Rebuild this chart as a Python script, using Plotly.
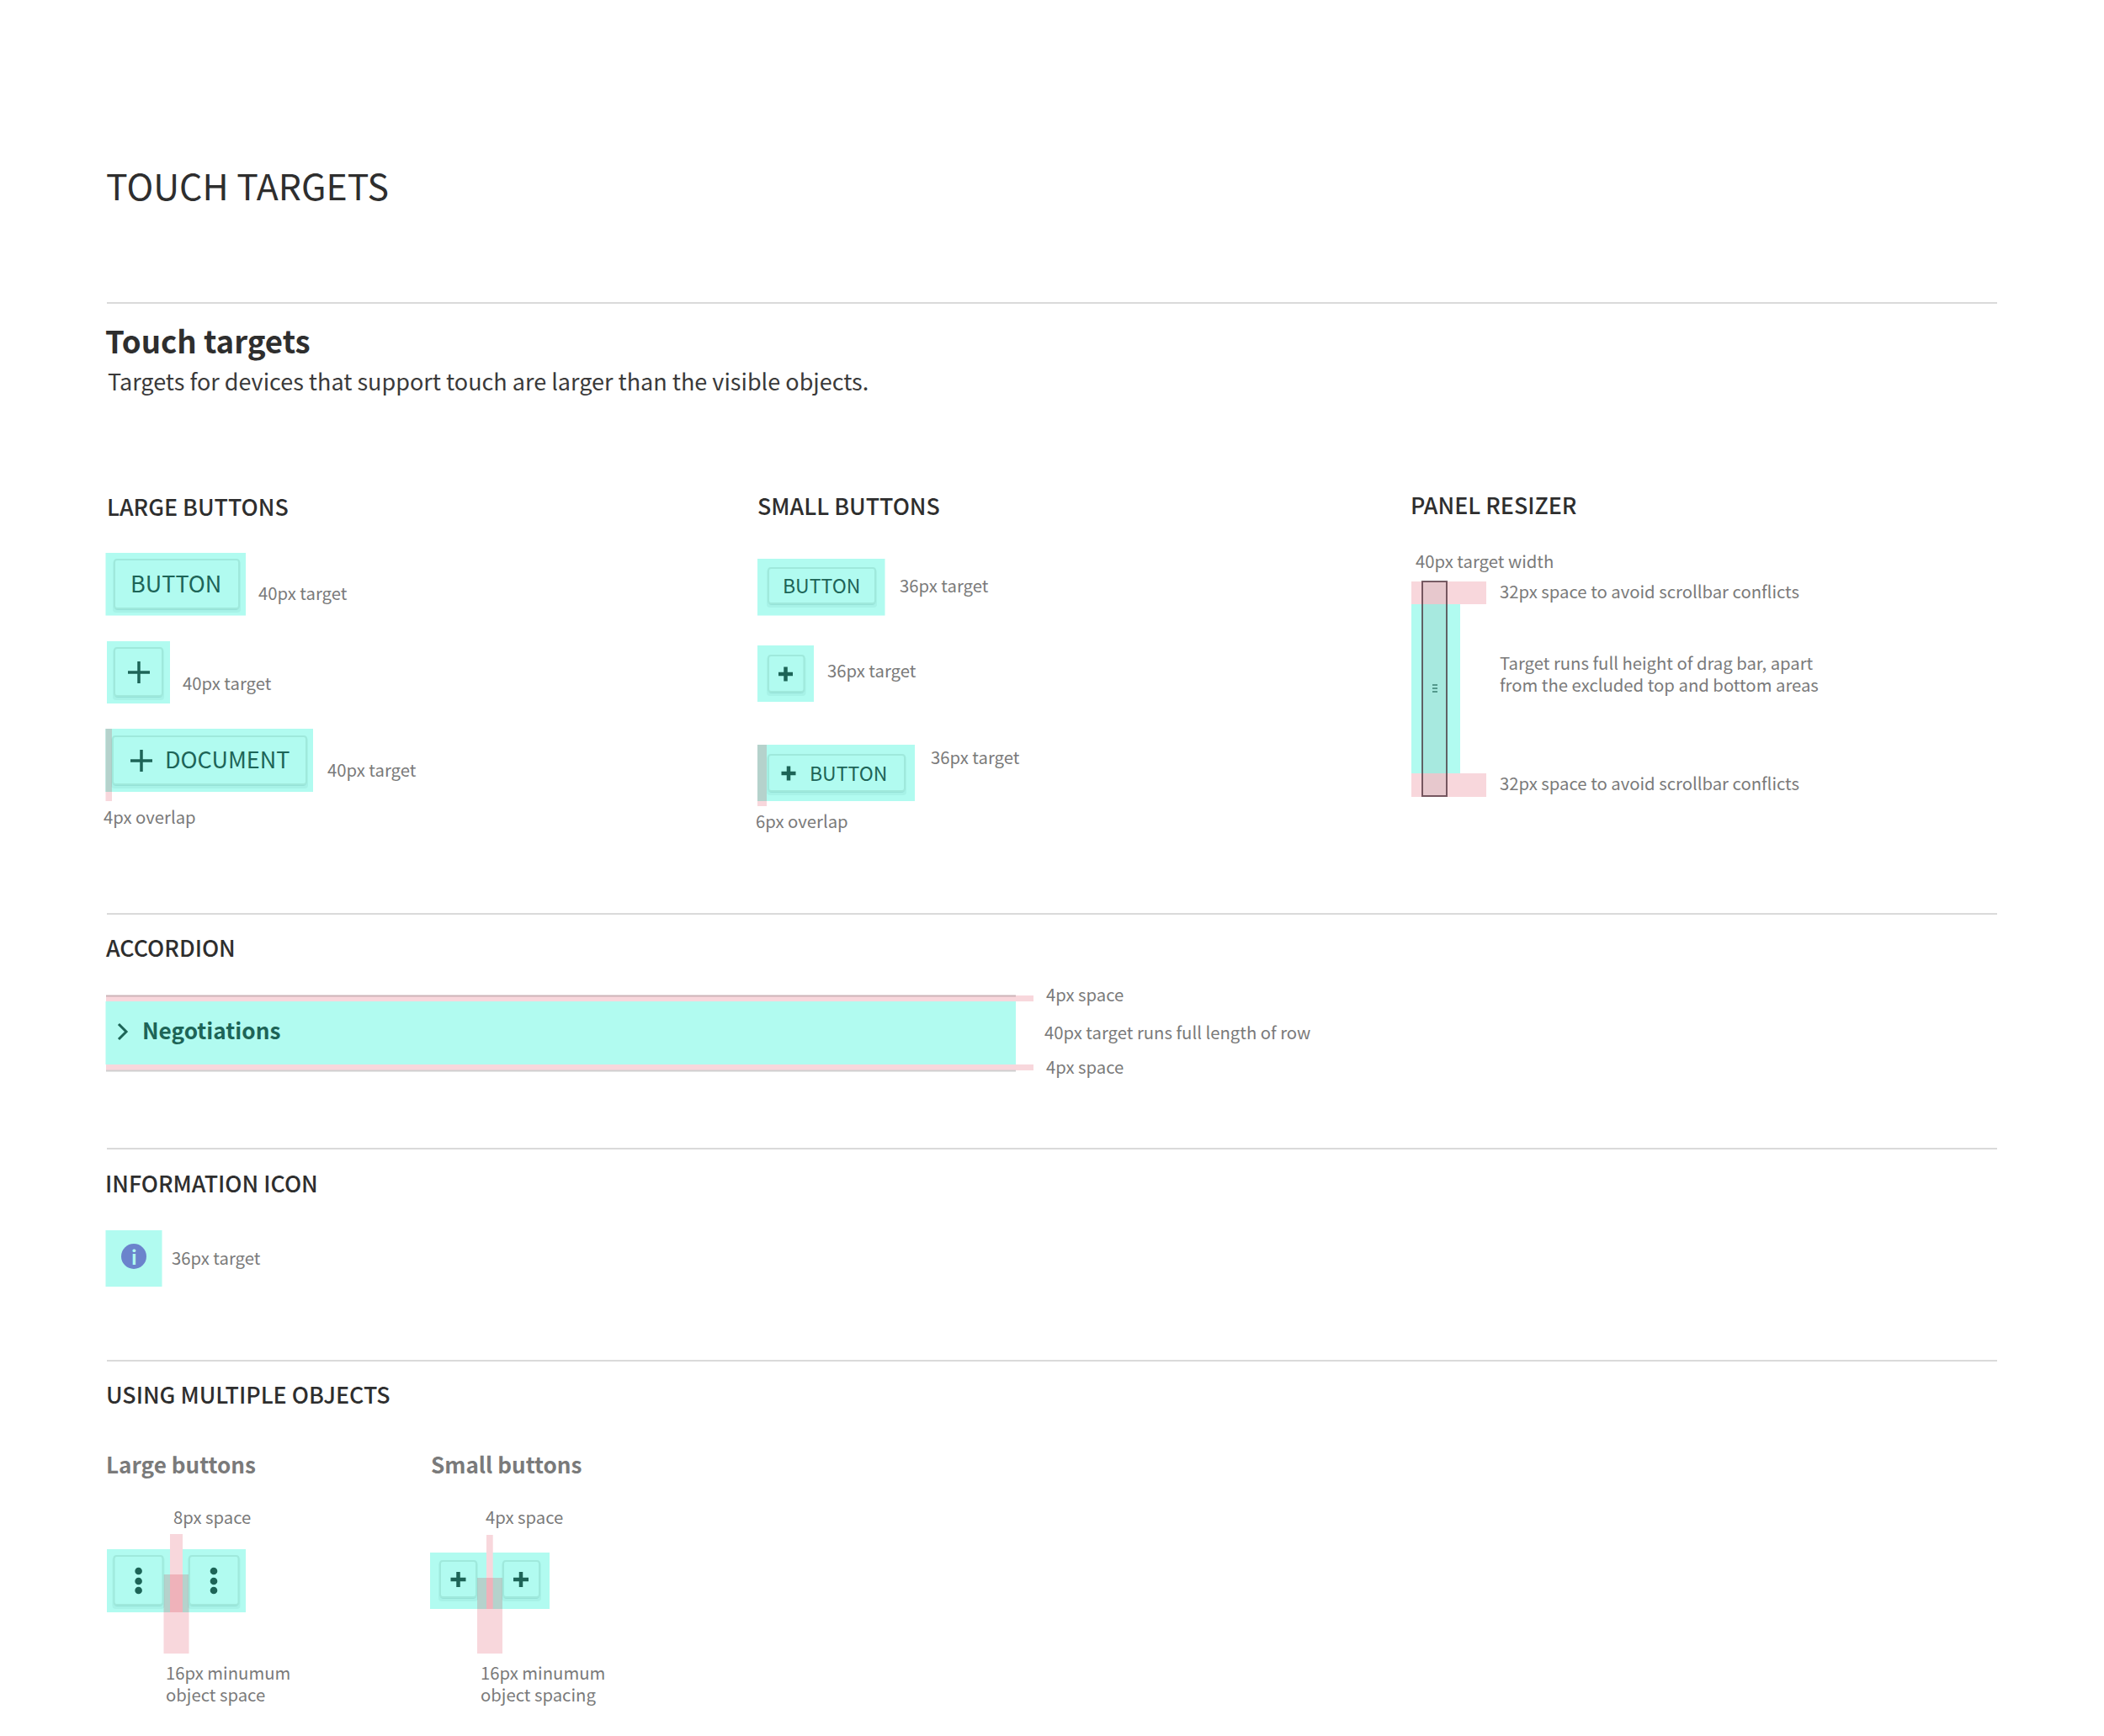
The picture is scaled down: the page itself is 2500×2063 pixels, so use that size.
import plotly.graph_objects as go

W, H = 2500, 2063
FONT = "Noto Sans CJK SC"

TEAL = "#b1fbf0"
PINK = "#f8d7dc"
GREY_OVER = "#b5d2cc"
PINK_OVER = "#efb2ba"
DARK_TEAL = "#1d6457"
LABEL = "#7a7a7a"
HEAD = "#2e2e2e"

# section rules (y), all run the same width
rule_y = [360, 1086, 1365, 1617]
rule_x = [127, 2373]

# boxes are x0, y0, x1, y1 in page pixels
teal_boxes = [
    (125.5, 657, 292, 731.5), (127, 762, 202, 836), (125.5, 866, 372, 941),
    (900, 664, 1051.5, 731.5), (900, 767, 967, 834), (900, 885, 1087, 952),
    (1677, 718, 1735, 919),
    (125.5, 1190, 1207, 1265),
    (125.5, 1462, 192.5, 1529),
    (127, 1841, 292, 1916), (511, 1845, 653, 1912),
]
pink_boxes = [
    (125.5, 941, 133, 952), (900, 952, 911, 958),
    (1677, 691, 1766, 718), (1677, 919, 1766, 947),
    (126, 1183, 1228, 1190), (126, 1265, 1228, 1272),
    (202, 1823, 217, 1916), (578, 1824, 585.7, 1912),
    (194.5, 1916, 224.5, 1965), (567, 1912, 597, 1965),
]
grey_boxes = [
    (125.5, 866, 133, 941), (900, 885, 911, 952),
    (194.5, 1871, 224.5, 1916), (567, 1875, 597, 1912),
]
deep_pink_boxes = [(202, 1871, 217, 1916), (578, 1875, 585.7, 1912)]

button_boxes = [
    (136, 665, 284, 723), (136, 770, 193, 827), (134, 875, 364, 932),
    (913, 675, 1040, 717), (913, 779, 955.5, 822), (913, 897, 1075, 940),
    (135.5, 1849, 193.5, 1907), (225, 1849, 283.5, 1907),
    (523, 1855, 566, 1898), (598, 1855, 641, 1898),
]

# plus icons: centre x, centre y, half size, stroke
plus_icons = [
    (165, 799, 13, 3.5), (168, 904, 13, 3.5),
    (933.5, 801, 8.5, 4.5), (937, 919, 8.5, 4.5),
    (544.5, 1877, 9, 4.5), (619, 1877, 9, 4.5),
]
kebab_x = [164.6, 254]
kebab_y = [1867, 1879, 1890]

resizer_box = (1690, 691, 1719, 946)
resizer_grip_y = [814, 818, 822]
accordion_rule_y = [1183.5, 1272.5]

label_text = [
    "40px target", "40px target", "40px target", "4px overlap",
    "36px target", "36px target", "36px target", "6px overlap",
    "40px target width", "32px space to avoid scrollbar conflicts",
    "Target runs full height of drag bar, apart<br>from the excluded top and bottom areas",
    "32px space to avoid scrollbar conflicts",
    "4px space", "40px target runs full length of row", "4px space",
    "36px target", "8px space", "16px minumum<br>object space",
    "4px space", "16px minumum<br>object spacing",
]
label_x = [307, 217, 389, 123.5, 1069, 983, 1106.5, 898, 1682, 1782, 1782, 1782,
           1243, 1241, 1243, 204, 206, 197, 577, 571]
label_y = [706, 813, 916, 972, 697, 798, 901, 977, 668, 704, 802, 932,
           1183, 1228, 1269, 1496, 1804, 2002, 1804, 2002]

heading_text = ["LARGE BUTTONS", "SMALL BUTTONS", "PANEL RESIZER", "ACCORDION",
                "INFORMATION ICON", "USING MULTIPLE OBJECTS"]
heading_x = [127, 900, 1676.5, 126, 125, 126]
heading_y = [603.5, 603, 601.5, 1128, 1407.5, 1659]

button_text = ["BUTTON", "DOCUMENT", "BUTTON", "BUTTON"]
button_text_x = [209, 269.5, 976, 1008]
button_text_y = [695, 904, 697, 920]
button_text_size = [27, 27, 23, 23]


def rect(box, color):
    return dict(type="rect", xref="x", yref="y", x0=box[0], y0=box[1], x1=box[2], y1=box[3],
                fillcolor=color, line=dict(width=0), layer="above")


def round_box(box, r, fill, line_color=None, line_width=0, dy=0, grow=0):
    x0, y0, x1, y1 = box[0] - grow, box[1] - grow + dy, box[2] + grow, box[3] + grow + dy
    path = (f"M{x0 + r},{y0} L{x1 - r},{y0} Q{x1},{y0} {x1},{y0 + r} L{x1},{y1 - r} Q{x1},{y1} {x1 - r},{y1} "
            f"L{x0 + r},{y1} Q{x0},{y1} {x0},{y1 - r} L{x0},{y0 + r} Q{x0},{y0} {x0 + r},{y0} Z")
    return dict(type="path", xref="x", yref="y", path=path, fillcolor=fill, layer="above",
                line=dict(color=line_color or fill, width=line_width))


def seg(x0, y0, x1, y1, color, width):
    return dict(type="line", xref="x", yref="y", x0=x0, y0=y0, x1=x1, y1=y1, layer="above",
                line=dict(color=color, width=width))


def dot(cx, cy, r, color):
    return dict(type="circle", xref="x", yref="y", x0=cx - r, y0=cy - r, x1=cx + r, y1=cy + r,
                fillcolor=color, line=dict(width=0), layer="above")


def txt(s, x, y, size, color, weight=400, anchor="left"):
    # left aligned text sits a little right and low in its box, pull it back
    dx = -1.5 if anchor == "left" else 0
    return dict(text=s, x=x + dx, y=y - 2.5, xref="x", yref="y", xanchor=anchor, yanchor="middle",
                align=anchor, showarrow=False, borderpad=0,
                font=dict(family=FONT, size=size, color=color, weight=weight))


shapes = []
for y in rule_y:
    shapes.append(seg(rule_x[0], y, rule_x[1], y, "#dadada", 2))

for b in teal_boxes:
    shapes.append(rect(b, TEAL))
for b in pink_boxes:
    shapes.append(rect(b, PINK))
for b in grey_boxes:
    shapes.append(rect(b, GREY_OVER))
for b in deep_pink_boxes:
    shapes.append(rect(b, PINK_OVER))

# button: soft shadow, then face with a faint border
for b in button_boxes:
    shapes.append(round_box(b, 4, "rgba(40,130,120,0.07)", dy=3, grow=2))
    shapes.append(round_box(b, 4, "rgba(40,130,120,0.14)", dy=2))
    shapes.append(round_box(b, 3, TEAL, "#9fe9dc", 2))

for cx, cy, s, w in plus_icons:
    shapes.append(seg(cx - s, cy, cx + s, cy, DARK_TEAL, w))
    shapes.append(seg(cx, cy - s, cx, cy + s, DARK_TEAL, w))

for x in kebab_x:
    for y in kebab_y:
        shapes.append(dot(x, y, 4.3, DARK_TEAL))

# panel resizer
shapes.append(dict(type="rect", xref="x", yref="y", x0=resizer_box[0], y0=resizer_box[1], x1=resizer_box[2],
                   y1=resizer_box[3], fillcolor="rgba(70,60,60,0.09)", layer="above",
                   line=dict(color="rgba(60,30,40,0.68)", width=2)))
for y in resizer_grip_y:
    shapes.append(seg(1702, y, 1708, y, DARK_TEAL, 1.2))

# accordion edge lines and chevron
shapes.append(seg(126, accordion_rule_y[0], 1207, accordion_rule_y[0], "#cdb4b8", 2))
shapes.append(seg(126, accordion_rule_y[1], 1207, accordion_rule_y[1], "#cfcfcf", 2))
shapes.append(dict(type="path", xref="x", yref="y", path="M141,1217 L150,1226 L141,1235", layer="above",
                   line=dict(color=DARK_TEAL, width=3)))

# info icon
shapes.append(dot(159, 1493, 15, "#6b83cc"))

annotations = [
    txt("TOUCH TARGETS", 126, 221, 42.8, HEAD),
    txt("Touch targets", 125.5, 406.5, 36.6, HEAD, 700),
    txt("Targets for devices that support touch are larger than the visible objects.", 128, 455, 27, "#3a3a3a"),
    txt("Large buttons", 126, 1742.5, 26.1, LABEL, 700),
    txt("Small buttons", 512, 1742.5, 26.1, LABEL, 700),
    txt("Negotiations", 169, 1226, 26.2, DARK_TEAL, 700),
    txt("i", 159, 1495.5, 22, TEAL, 700, "center"),
]
for s, x, y in zip(label_text, label_x, label_y):
    annotations.append(txt(s, x, y, 20.3, LABEL))
for s, x, y in zip(heading_text, heading_x, heading_y):
    annotations.append(txt(s, x, y, 26.8, HEAD, 500))
for s, x, y, size in zip(button_text, button_text_x, button_text_y, button_text_size):
    annotations.append(txt(s, x, y, size, DARK_TEAL, anchor="center"))

fig = go.Figure(go.Scatter(x=[], y=[], hoverinfo="skip"))
fig.update_layout(
    width=W, height=H, margin=dict(l=0, r=0, t=0, b=0), showlegend=False,
    paper_bgcolor="white", plot_bgcolor="white",
    xaxis=dict(range=[0, W], visible=False, fixedrange=True),
    yaxis=dict(range=[H, 0], visible=False, fixedrange=True),
    shapes=shapes, annotations=annotations,
)
fig.write_html("out.html", config=dict(displayModeBar=False),
               post_script="document.body.style.margin='0';")
